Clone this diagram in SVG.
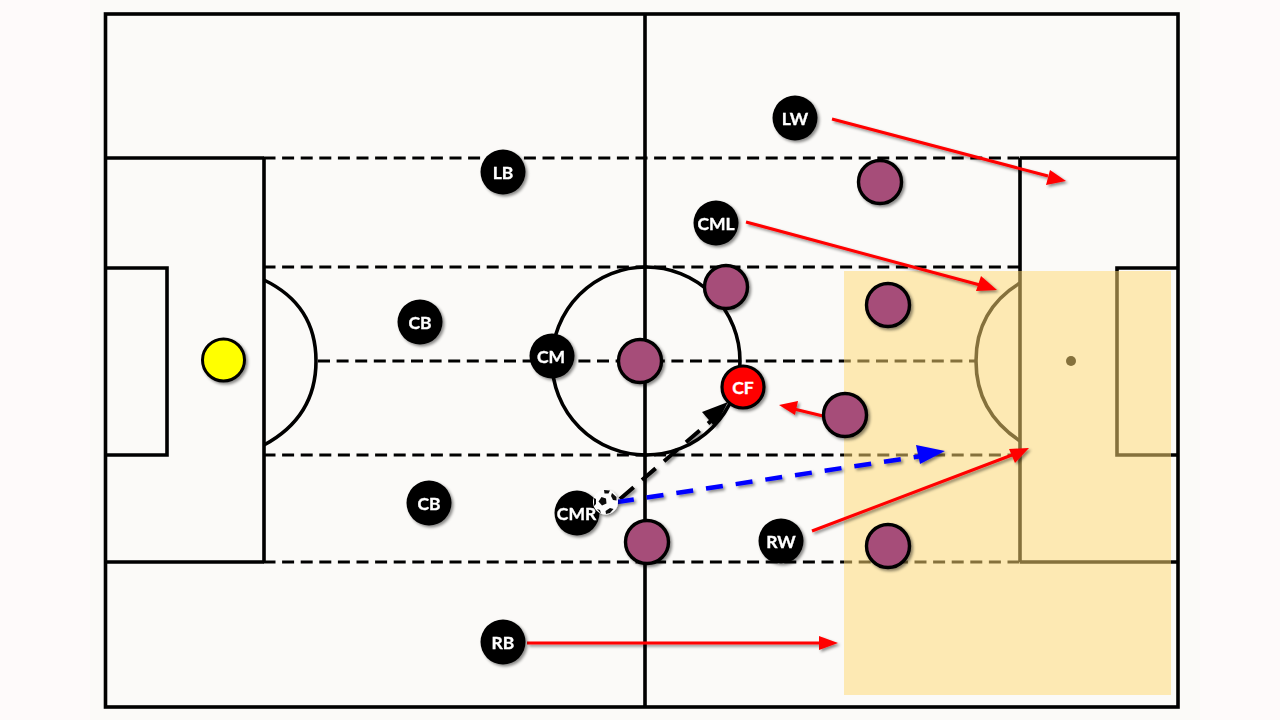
<svg xmlns="http://www.w3.org/2000/svg" width="1280" height="720" viewBox="0 0 1280 720">
<style>
.ln{fill:none;stroke:#000;stroke-width:3.600}
.ds{fill:none;stroke:#000;stroke-width:3.200;stroke-dasharray:12 6.600}
.pl{fill:#000}
.op{fill:#a64d79;stroke:#000;stroke-width:3.400}
.t{font-family:Lato,"Open Sans",sans-serif;font-weight:700;font-size:17.500px;fill:#fff;stroke:#fff;stroke-width:.35;text-anchor:middle}
.r{fill:none;stroke:#f00;stroke-width:3}
.rh{fill:#f00}
</style>
<defs>
<filter id="sh" x="-30%" y="-30%" width="170%" height="170%"><feDropShadow dx="2" dy="2" stdDeviation="1.600" flood-color="#000" flood-opacity=".45"/></filter>
<filter id="soft" x="-2%" y="-2%" width="104%" height="104%"><feGaussianBlur stdDeviation=".5"/></filter>
</defs>
<rect width="1280" height="720" fill="#fefafa"/>
<rect x="90" y="0" width="1110" height="720" fill="#fbfaf8"/>
<g id="pitch" filter="url(#soft)">
<rect class="ln" x="105.500" y="14" width="1072.500" height="693"/>
<path class="ln" d="M645 14V707M105 158H264M1020 158H1178M105 562H264M1020 562H1178M264 158V562M1020 158V562M105 268H167V455H105M1178 268H1117V455H1178"/>
<path class="ln" d="M264 280Q316 305 316 361T264 445M1020 283Q976 310 976 361T1020 441"/>
<circle class="ln" cx="646" cy="361" r="94"/>
<circle cx="1071" cy="361" r="5" fill="#000"/>
<path class="ds" d="M263.500 158H1020M263.500 267H1020M318 361H976M263.500 455H1020M263.500 562H1020"/>
</g>
<rect id="zone" x="844" y="271" width="327" height="424" fill="#ffd973" opacity=".52"/>
<g id="connectors" filter="url(#sh)">
<path class="r" d="M832 119L1048 176"/><path class="rh" d="M1066 181L1046 185L1050 170Z"/>
<path class="r" d="M746 222L980 285"/><path class="rh" d="M997 290L976 291L981 276Z"/>
<path class="r" d="M823 416L794 409"/><path class="rh" d="M779 405L798 401L795 415Z"/>
<path class="r" d="M812 531L1012 455"/><path class="rh" d="M1029 448L1015 463L1009 449Z"/>
<path class="r" d="M527 643H820"/><path class="rh" d="M838 643L819 636V650Z"/>
<path fill="none" stroke="#000" stroke-width="4" stroke-dasharray="18 11" d="M620 499L712 420"/>
<path fill="#000" d="M728 402L715 427L702 412Z"/>
<path fill="none" stroke="#00f" stroke-width="4.500" stroke-dasharray="17 13" d="M617 502L922 456"/>
<path fill="#00f" d="M945 451L920 464L916 445Z"/>
</g>
<g id="n-lw" filter="url(#sh)"><circle class="pl" cx="795" cy="118" r="22.500"/><text class="t" x="795" y="124.500">LW</text></g>
<g id="n-lb" filter="url(#sh)"><circle class="pl" cx="503" cy="172" r="22.500"/><text class="t" x="503" y="178.500">LB</text></g>
<g id="n-cml" filter="url(#sh)"><circle class="pl" cx="716" cy="223" r="22.500"/><text class="t" x="716" y="229.500">CML</text></g>
<g id="n-cb1" filter="url(#sh)"><circle class="pl" cx="420" cy="322" r="22.500"/><text class="t" x="420" y="328.500">CB</text></g>
<g id="n-cm" filter="url(#sh)"><circle class="pl" cx="552" cy="356" r="22.500"/><text class="t" x="551" y="362.500">CM</text></g>
<g id="n-cb2" filter="url(#sh)"><circle class="pl" cx="429" cy="503" r="22.500"/><text class="t" x="429" y="509.500">CB</text></g>
<g id="n-cmr" filter="url(#sh)"><circle class="pl" cx="577" cy="513" r="22.500"/><text class="t" x="576.500" y="519.500">CMR</text></g>
<g id="n-rw" filter="url(#sh)"><circle class="pl" cx="781" cy="541" r="22.500"/><text class="t" x="781" y="547.500">RW</text></g>
<g id="n-rb" filter="url(#sh)"><circle class="pl" cx="503" cy="642" r="22.500"/><text class="t" x="503" y="648.500">RB</text></g>
<g id="n-cf"><circle cx="743" cy="387" r="21" fill="#f00" stroke="#000" stroke-width="3.200" filter="url(#sh)"/><text class="t" x="743" y="393.500">CF</text></g>
<g id="n-gk"><circle cx="223.500" cy="360" r="21" fill="#ff0" stroke="#000" stroke-width="3" filter="url(#sh)"/></g>
<g id="opponents" filter="url(#sh)">
<circle class="op" cx="880" cy="182" r="21.500"/>
<circle class="op" cx="726" cy="287" r="21.500"/>
<circle class="op" cx="888" cy="305" r="21.500"/>
<circle class="op" cx="640" cy="361" r="21.500"/>
<circle class="op" cx="845" cy="415" r="21.500"/>
<circle class="op" cx="647" cy="542" r="21.500"/>
<circle class="op" cx="888" cy="546" r="21.500"/>
</g>
<g id="ball" filter="url(#sh)">
<circle cx="605.500" cy="502" r="12.500" fill="#fff"/>
<path fill="#111" d="M601.500 497L606 498.500L606.500 503.500L602 505.500L598.500 501.500ZM604 490L610 490.500L608.500 493.500L604.500 493.500ZM612 493L616.500 497L616.500 500.500L613 500L611 496ZM594 498L596 499L596 504L594 506ZM605.500 511L610 508L613.500 509L610 513L606 514ZM597 509L600 510L601 513.500Z"/>
</g>
</svg>
